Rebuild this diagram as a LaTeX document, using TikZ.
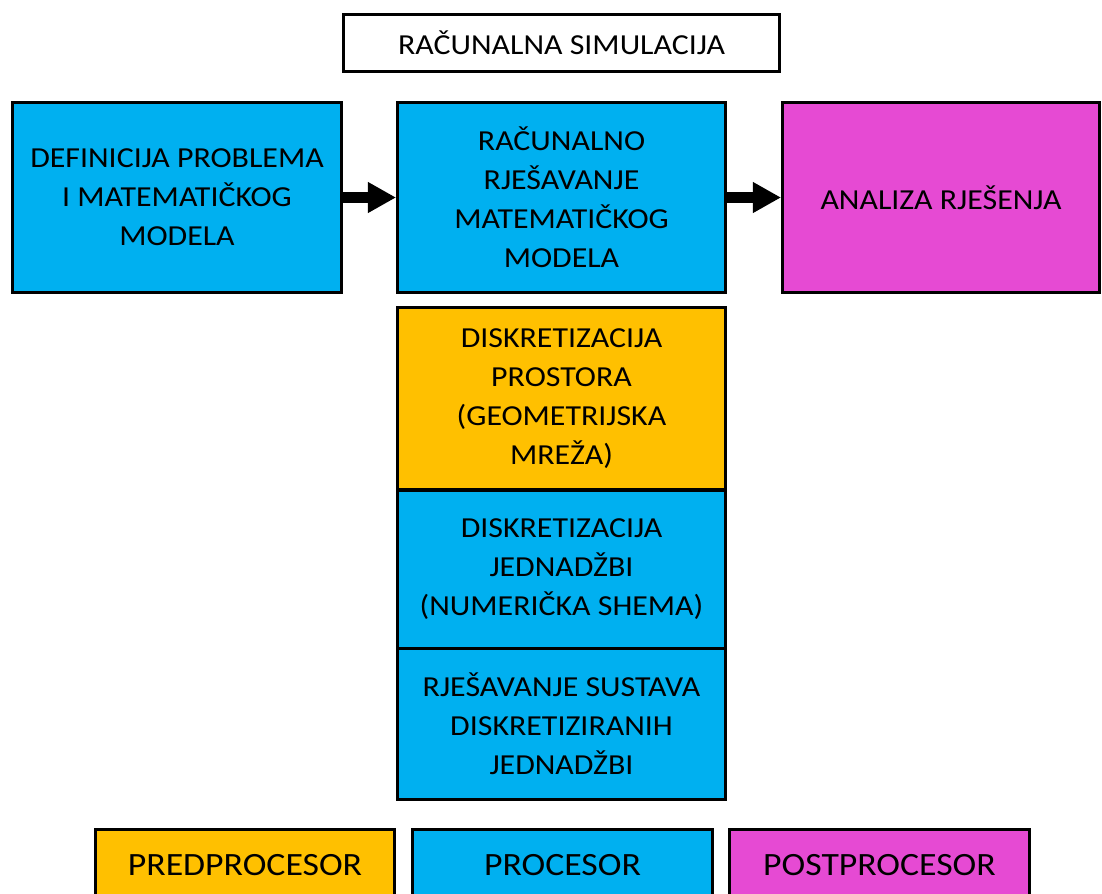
\documentclass[tikz,border=0pt]{standalone}
\usepackage{fontspec}
\setmainfont{Carlito}[FakeStretch=1.1]
\usetikzlibrary{arrows.meta}
\definecolor{plava}{HTML}{00B0F0}
\definecolor{zuta}{HTML}{FFC000}
\definecolor{ljubicasta}{HTML}{E64AD3}
\begin{document}
\begin{tikzpicture}[x=0.02cm, y=-0.02cm,
    okvir/.style={draw, line width=1.7pt, align=center, inner sep=0pt,
      font=\fontsize{16.5}{22.2}\selectfont},
    strelica/.style={line width=5.7pt, -{Triangle[length=16pt 0, width=16.5pt 0]}}]
      % Granice slike
      \useasboundingbox (0,0) rectangle (1102,893);
      \clip (0,0) rectangle (1102,893);

      % Naslov
      \node[okvir, minimum width=8.72cm, minimum height=1.14cm] (naslov) at (561.5,43) {RAČUNALNA SIMULACIJA};

      % Gornji red
      \node[okvir, fill=plava, minimum width=6.58cm, minimum height=3.8cm] (definicija) at (177,197.5)
          {DEFINICIJA PROBLEMA\\I MATEMATIČKOG\\MODELA};
      \node[okvir, fill=plava, minimum width=6.56cm, minimum height=3.8cm] (rjesavanje) at (561.5,197.5)
          {RAČUNALNO\\RJEŠAVANJE\\MATEMATIČKOG\\MODELA};
      \node[okvir, fill=ljubicasta, minimum width=6.34cm, minimum height=3.8cm] (analiza) at (941,197.5)
          {ANALIZA RJEŠENJA};

      % Strelice
      \draw[strelica] (definicija) -- (rjesavanje);
      \draw[strelica] (rjesavanje) -- (analiza);

      % Koraci rjesavanja
      \node[okvir, fill=zuta, minimum width=6.56cm, minimum height=3.65cm] (prostor) at (561.5,398.75)
          {DISKRETIZACIJA\\PROSTORA\\(GEOMETRIJSKA\\MREŽA)};
      \node[okvir, fill=plava, minimum width=6.56cm, minimum height=3.16cm] (jednadzbe) at (561.5,569)
          {DISKRETIZACIJA\\JEDNADŽBI\\(NUMERIČKA SHEMA)};
      \node[okvir, fill=plava, minimum width=6.56cm, minimum height=3.03cm] (sustav) at (561.5,723.75)
          {RJEŠAVANJE SUSTAVA\\DISKRETIZIRANIH\\JEDNADŽBI};

      % Legenda
      \node[okvir, fill=zuta, minimum width=5.98cm, minimum height=1.44cm,
          font=\fontsize{18.5}{22}\selectfont] (pred) at (245,865.5) {PREDPROCESOR};
      \node[okvir, fill=plava, minimum width=6cm, minimum height=1.44cm,
          font=\fontsize{18.5}{22}\selectfont] (proc) at (562.5,865.5) {PROCESOR};
      \node[okvir, fill=ljubicasta, minimum width=6cm, minimum height=1.44cm,
          font=\fontsize{18.5}{22}\selectfont] (post) at (879.5,865.5) {POSTPROCESOR};
\end{tikzpicture}
\end{document}
